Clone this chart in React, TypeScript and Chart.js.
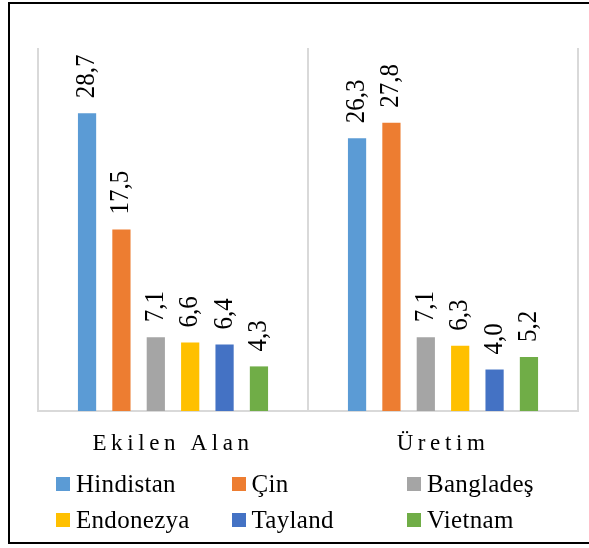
import React, { useEffect, useRef } from 'react';
import { Chart, registerables } from 'chart.js';

Chart.register(...registerables);

const categories = ['Ekilen Alan', 'Üretim'];
const seriesNames = ['Hindistan', 'Çin', 'Bangladeş', 'Endonezya', 'Tayland', 'Vietnam'];
const hindistan = [28.7, 26.3];
const cin = [17.5, 27.8];
const banglades = [7.1, 7.1];
const endonezya = [6.6, 6.3];
const tayland = [6.4, 4.0];
const vietnam = [4.3, 5.2];
const seriesValues = [hindistan, cin, banglades, endonezya, tayland, vietnam];
const seriesColors = ['#5B9BD5', '#ED7D31', '#A5A5A5', '#FFC000', '#4472C4', '#70AD47'];
const yMin = 0;
const yMax = 35;

const SERIF = '"Liberation Serif", "Times New Roman", serif';

const whiteBgPlugin = {
  id: 'whiteBg',
  beforeDraw(chart: any) {
    const ctx: any = chart.ctx;
    ctx.save();
    ctx.fillStyle = '#ffffff';
    ctx.fillRect(0, 0, chart.width, chart.height);
    ctx.restore();
  },
};

const letterSpacingPlugin = {
  id: 'xLetterSpacing',
  beforeDraw(chart: any) {
    const sx: any = chart.scales.x;
    if (sx && !sx._lsPatched) {
      const orig = sx.drawLabels;
      sx.drawLabels = function (area: any) {
        const ctx: any = this.ctx;
        ctx.save();
        ctx.letterSpacing = '4.6px';
        orig.call(this, area);
        ctx.letterSpacing = '0px';
        ctx.restore();
      };
      sx._lsPatched = true;
    }
  },
};

const valueLabelPlugin = {
  id: 'valueLabels',
  afterDatasetsDraw(chart: any) {
    const ctx: any = chart.ctx;
    chart.data.datasets.forEach((ds: any, i: number) => {
      const meta = chart.getDatasetMeta(i);
      meta.data.forEach((el: any, j: number) => {
        const v = ds.data[j] as number;
        const text = v.toFixed(1).replace('.', ',');
        ctx.save();
        ctx.font = `25px ${SERIF}`;
        ctx.fillStyle = '#000';
        ctx.textAlign = 'left';
        ctx.textBaseline = 'middle';
        ctx.translate(el.x, el.y - 15);
        ctx.rotate(-Math.PI / 2);
        ctx.scale(1, 1.07);
        ctx.fillText(text, 0, 0);
        ctx.restore();
      });
    });
  },
};

export default function App() {
  const canvasRef = useRef<HTMLCanvasElement | null>(null);

  useEffect(() => {
    if (!canvasRef.current) return;
    const chart = new Chart(canvasRef.current, {
      type: 'bar',
      data: {
        labels: categories,
        datasets: seriesNames.map((name, i) => ({
          label: name,
          data: seriesValues[i],
          backgroundColor: seriesColors[i],
          borderWidth: 0,
          barPercentage: 0.53,
          categoryPercentage: 0.764,
        })),
      },
      options: {
        animation: false,
        responsive: false,
        devicePixelRatio: 1,
        layout: { padding: { left: 38, right: 11, top: 48, bottom: 0 } },
        plugins: {
          legend: { display: false },
          tooltip: { enabled: false },
        },
        scales: {
          x: {
            grid: {
              display: true,
              offset: true,
              color: '#d9d9d9',
              lineWidth: 2,
              drawTicks: false,
              tickLength: 0,
            },
            border: { display: true, color: '#d9d9d9', width: 2 },
            ticks: {
              color: '#000',
              padding: 19.5,
              font: { family: SERIF, size: 23 },
            },
            afterFit: (scale: any) => {
              scale.height = 137;
            },
          },
          y: {
            display: false,
            min: yMin,
            max: yMax,
          },
        },
      },
      plugins: [whiteBgPlugin, letterSpacingPlugin, valueLabelPlugin],
    });
    return () => chart.destroy();
  }, []);

  return (
    <div
      style={{
        position: 'fixed',
        left: 0,
        top: 0,
        width: 589,
        height: 548,
        overflow: 'hidden',
        background: '#fff',
      }}
    >
      <canvas
        ref={canvasRef}
        width={589}
        height={548}
        style={{ position: 'absolute', left: 0, top: 0, width: 589, height: 548 }}
      />
      {seriesNames.map((name, i) => {
        const col = i % 3;
        const row = Math.floor(i / 3);
        const bx = 56 + col * 175.5;
        const by = 476.7 + row * 36.6;
        return (
          <React.Fragment key={name}>
            <div
              style={{
                position: 'absolute',
                left: bx,
                top: by,
                width: 14,
                height: 14,
                background: seriesColors[i],
              }}
            />
            <div
              style={{
                position: 'absolute',
                left: bx + 20,
                top: by - 6,
                fontFamily: SERIF,
                fontSize: 25,
                lineHeight: '25px',
                letterSpacing: '0.3px',
                color: '#000',
                whiteSpace: 'nowrap',
              }}
            >
              {name}
            </div>
          </React.Fragment>
        );
      })}
      <div
        style={{
          position: 'absolute',
          left: 8,
          top: 2,
          width: 700,
          height: 538,
          border: '2px solid #000',
          pointerEvents: 'none',
        }}
      />
    </div>
  );
}
